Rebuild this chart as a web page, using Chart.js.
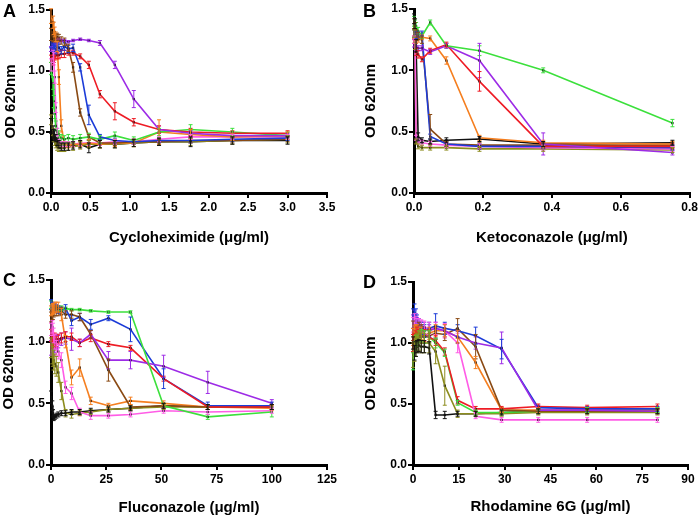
<!DOCTYPE html>
<html>
<head>
<meta charset="utf-8">
<script src="https://cdn.jsdelivr.net/npm/chart.js@4"></script>
<style>
  body { margin: 0; background: #fff; }
  #wrap { position: relative; width: 700px; height: 516px; overflow: hidden; }
  canvas { position: absolute; }
  .tag { position: absolute; font: bold 18px "Liberation Sans", Arial, sans-serif; color: #000; }
</style>
</head>
<body>
<div id="wrap">
  <canvas id="chartA" width="350" height="250" style="left:0;top:0"></canvas>
  <canvas id="chartB" width="350" height="250" style="left:350px;top:0"></canvas>
  <canvas id="chartC" width="350" height="270" style="left:0;top:250px"></canvas>
  <canvas id="chartD" width="350" height="270" style="left:350px;top:250px"></canvas>
  <div class="tag" style="left:3px;top:1px">A</div>
  <div class="tag" style="left:363px;top:1px">B</div>
  <div class="tag" style="left:3px;top:270px">C</div>
  <div class="tag" style="left:363px;top:272px">D</div>
</div>
<script>
// ---- A: cycloheximide ----
const aDose = [0, 0.027, 0.035, 0.046, 0.06, 0.078, 0.1, 0.13, 0.17, 0.22, 0.28, 0.37, 0.48, 0.62, 0.81, 1.05, 1.37, 1.77, 2.3, 3.0];
const aPurple = [1.18,1.2,1.22,1.23,1.24,1.24,1.25,1.25,1.25,1.24,1.25,1.26,1.25,1.23,1.05,0.77,0.52,0.49,0.47,0.47];
const aRed    = [1.1,1.08,1.1,1.12,1.13,1.13,1.13,1.14,1.14,1.15,1.15,1.12,1.05,0.81,0.67,0.58,0.52,0.5,0.49,0.49];
const aBlue   = [1.22,1.2,1.19,1.18,1.17,1.2,1.19,1.17,1.2,1.18,1.19,1.03,0.64,0.46,0.43,0.42,0.43,0.43,0.44,0.45];
const aBrown  = [1.3,1.28,1.27,1.28,1.27,1.28,1.27,1.25,1.24,1.19,1.03,0.66,0.46,0.41,0.41,0.42,0.42,0.43,0.43,0.44];
const aOrange = [1.45,1.4,1.35,1.32,1.28,1.2,0.95,0.55,0.4,0.39,0.4,0.4,0.41,0.4,0.41,0.41,0.5,0.48,0.46,0.47];
const aGreen  = [1.02,0.9,0.75,0.65,0.55,0.5,0.48,0.45,0.44,0.45,0.44,0.45,0.46,0.44,0.47,0.43,0.5,0.52,0.5,0.47];
const aPink   = [1.05,1.12,1.1,0.95,0.7,0.5,0.42,0.4,0.4,0.4,0.4,0.41,0.41,0.41,0.42,0.42,0.44,0.46,0.46,0.46];
const aBlack  = [0.55,0.5,0.48,0.47,0.45,0.42,0.4,0.38,0.38,0.38,0.39,0.4,0.37,0.4,0.4,0.41,0.42,0.42,0.43,0.43];
const aOlive  = [0.6,0.5,0.45,0.42,0.4,0.38,0.37,0.37,0.37,0.38,0.38,0.39,0.4,0.4,0.4,0.41,0.42,0.42,0.43,0.44];
const aPurpleErr = [0.02,0.02,0.02,0.02,0.02,0.02,0.02,0.01,0.01,0.01,0.01,0.01,0.01,0.02,0.03,0.07,0.03,0.02,0.02,0.02];
const aRedErr    = [0.03,0.03,0.03,0.03,0.03,0.03,0.03,0.03,0.03,0.02,0.02,0.02,0.03,0.03,0.07,0.03,0.03,0.03,0.02,0.02];
const aBlueErr   = [0.03,0.03,0.03,0.03,0.03,0.03,0.03,0.03,0.03,0.03,0.03,0.03,0.08,0.02,0.02,0.02,0.02,0.02,0.02,0.02];
const aBrownErr  = [0.05,0.04,0.03,0.03,0.03,0.03,0.03,0.03,0.03,0.03,0.04,0.03,0.02,0.02,0.02,0.02,0.02,0.02,0.02,0.02];
const aOrangeErr = [0.06,0.05,0.05,0.04,0.04,0.04,0.06,0.05,0.02,0.02,0.02,0.02,0.03,0.03,0.03,0.03,0.1,0.04,0.03,0.03];
const aGreenErr  = [0.05,0.05,0.05,0.04,0.04,0.03,0.03,0.03,0.03,0.03,0.03,0.03,0.03,0.03,0.03,0.03,0.03,0.04,0.03,0.03];
const aPinkErr   = [0.05,0.05,0.05,0.05,0.04,0.03,0.02,0.02,0.02,0.02,0.02,0.02,0.02,0.02,0.02,0.02,0.02,0.02,0.02,0.02];
const aBlackErr  = [0.06,0.05,0.04,0.04,0.03,0.03,0.03,0.03,0.03,0.03,0.03,0.03,0.04,0.03,0.03,0.03,0.03,0.04,0.03,0.03];
const aOliveErr  = [0.04,0.03,0.03,0.03,0.03,0.03,0.03,0.03,0.03,0.03,0.03,0.03,0.03,0.03,0.03,0.03,0.03,0.03,0.03,0.03];

// ---- B: ketoconazole ----
const bDose = [0, 0.003, 0.006, 0.012, 0.023, 0.047, 0.094, 0.19, 0.375, 0.75];
const bGreen  = [1.4,1.38,1.36,1.32,1.28,1.39,1.2,1.16,1.0,0.57];
const bRed    = [1.25,1.2,1.15,1.13,1.09,1.16,1.21,0.91,0.38,0.38];
const bPurple = [1.22,1.2,1.19,1.18,1.18,1.15,1.2,1.08,0.4,0.33];
const bOrange = [1.3,1.27,1.25,1.25,1.27,1.26,1.08,0.45,0.41,0.4];
const bBrown  = [1.38,1.36,1.3,1.28,1.25,0.52,0.4,0.39,0.39,0.39];
const bBlue   = [1.3,1.3,1.29,1.29,1.3,0.46,0.4,0.38,0.38,0.37];
const bBlack  = [1.42,1.38,1.2,0.46,0.43,0.42,0.43,0.44,0.4,0.41];
const bPink   = [1.25,1.2,0.45,0.42,0.41,0.4,0.39,0.38,0.37,0.36];
const bOlive  = [1.3,1.2,0.42,0.38,0.37,0.37,0.37,0.36,0.36,0.35];
const bGreenErr  = [0.04,0.03,0.03,0.03,0.02,0.02,0.02,0.04,0.02,0.03];
const bRedErr    = [0.03,0.03,0.03,0.03,0.02,0.02,0.02,0.08,0.02,0.02];
const bPurpleErr = [0.03,0.03,0.03,0.02,0.02,0.02,0.02,0.14,0.09,0.02];
const bOrangeErr = [0.04,0.03,0.03,0.02,0.02,0.02,0.03,0.02,0.02,0.02];
const bBrownErr  = [0.04,0.03,0.03,0.03,0.03,0.12,0.02,0.02,0.02,0.02];
const bBlueErr   = [0.03,0.03,0.03,0.02,0.02,0.02,0.02,0.02,0.02,0.02];
const bBlackErr  = [0.04,0.04,0.05,0.03,0.02,0.02,0.02,0.02,0.02,0.02];
const bPinkErr   = [0.03,0.03,0.02,0.02,0.02,0.02,0.02,0.02,0.02,0.02];
const bOliveErr  = [0.03,0.03,0.02,0.02,0.02,0.02,0.02,0.02,0.02,0.02];

// ---- C: fluconazole ----
const cDose = [0, 0.6, 0.85, 1.2, 1.7, 2.4, 3.3, 4.7, 6.6, 9.3, 13, 18, 26, 36, 51, 71, 100];
const cGreen  = [1.3,1.28,1.28,1.27,1.27,1.27,1.27,1.27,1.27,1.26,1.26,1.25,1.24,1.24,0.48,0.39,0.43];
const cBlue   = [1.3,1.29,1.28,1.27,1.28,1.27,1.26,1.25,1.27,1.17,1.2,1.14,1.19,1.1,0.7,0.48,0.48];
const cRed    = [1.05,1.02,1.0,1.0,1.02,1.0,1.02,1.03,1.04,1.04,0.99,1.03,0.98,0.95,0.7,0.47,0.47];
const cPurple = [0.95,0.96,0.98,0.95,0.97,1.0,1.0,1.02,1.03,1.02,0.99,1.06,0.85,0.85,0.8,0.67,0.5];
const cBrown  = [1.2,1.22,1.22,1.24,1.25,1.25,1.24,1.25,1.22,1.22,1.2,1.06,0.77,0.47,0.48,0.47,0.47];
const cOrange = [1.25,1.26,1.27,1.27,1.28,1.28,1.28,1.22,1.0,0.71,0.79,0.52,0.48,0.52,0.5,0.47,0.46];
const cPink   = [1.1,1.12,1.1,1.05,1.0,0.95,0.92,0.85,0.63,0.58,0.43,0.4,0.4,0.41,0.44,0.43,0.44];
const cBlack  = [0.55,0.48,0.42,0.38,0.39,0.4,0.41,0.42,0.42,0.43,0.43,0.44,0.45,0.46,0.48,0.47,0.47];
const cOlive  = [0.95,0.9,0.88,0.85,0.82,0.8,0.75,0.6,0.42,0.41,0.42,0.43,0.45,0.46,0.47,0.47,0.47];
const cGreenErr  = [0.03,0.02,0.02,0.02,0.02,0.02,0.02,0.02,0.01,0.01,0.01,0.01,0.01,0.01,0.02,0.02,0.04];
const cBlueErr   = [0.04,0.03,0.03,0.03,0.03,0.03,0.03,0.03,0.03,0.04,0.03,0.04,0.02,0.1,0.08,0.03,0.03];
const cRedErr    = [0.05,0.05,0.05,0.05,0.05,0.04,0.04,0.04,0.04,0.03,0.03,0.03,0.02,0.02,0.02,0.02,0.02];
const cPurpleErr = [0.06,0.06,0.06,0.06,0.06,0.06,0.05,0.05,0.05,0.09,0.03,0.03,0.07,0.07,0.09,0.09,0.03];
const cBrownErr  = [0.04,0.04,0.04,0.04,0.04,0.04,0.03,0.03,0.03,0.03,0.03,0.03,0.09,0.02,0.02,0.02,0.02];
const cOrangeErr = [0.04,0.04,0.04,0.04,0.04,0.04,0.04,0.05,0.05,0.06,0.07,0.03,0.02,0.03,0.02,0.02,0.02];
const cPinkErr   = [0.05,0.05,0.05,0.06,0.06,0.06,0.06,0.06,0.05,0.05,0.03,0.03,0.02,0.02,0.02,0.02,0.02];
const cBlackErr  = [0.05,0.04,0.03,0.02,0.02,0.02,0.02,0.02,0.02,0.02,0.02,0.02,0.02,0.02,0.02,0.02,0.02];
const cOliveErr  = [0.08,0.08,0.08,0.08,0.08,0.08,0.08,0.07,0.03,0.03,0.02,0.02,0.02,0.02,0.02,0.02,0.02];

// ---- D: rhodamine 6G ----
const dDose = [0, 0.5, 0.95, 1.3, 1.9, 2.7, 3.7, 5.3, 7.4, 10.4, 14.6, 20.5, 29, 41, 57, 80];
const dBlue   = [1.2,1.25,1.22,1.18,1.15,1.12,1.1,1.12,1.14,1.12,1.1,1.06,0.95,0.47,0.46,0.46];
const dPurple = [1.15,1.2,1.18,1.16,1.15,1.13,1.12,1.1,1.12,1.1,1.05,1.0,0.96,0.45,0.45,0.44];
const dPink   = [1.15,1.18,1.17,1.15,1.15,1.14,1.13,1.12,1.12,1.1,1.0,0.4,0.37,0.37,0.37,0.37];
const dBrown  = [1.1,1.05,1.08,1.1,1.12,1.1,1.05,1.06,1.08,1.07,1.12,0.97,0.45,0.44,0.44,0.44];
const dOrange = [1.05,1.08,1.1,1.1,1.08,1.08,1.06,1.08,1.1,1.1,1.05,0.84,0.45,0.45,0.45,0.45];
const dRed    = [1.0,1.02,1.05,1.08,1.06,1.05,1.06,1.05,1.02,0.93,0.53,0.46,0.46,0.48,0.47,0.48];
const dGreen  = [0.85,0.95,1.0,1.02,1.05,1.06,1.05,1.05,1.0,0.92,0.51,0.43,0.43,0.44,0.45,0.45];
const dOlive  = [0.9,0.95,0.98,1.0,1.02,1.0,1.0,1.0,0.93,0.65,0.42,0.42,0.42,0.43,0.43,0.43];
const dBlack  = [1.0,0.92,0.95,0.97,0.98,0.97,0.97,0.96,0.41,0.41,0.42,0.42,0.43,0.44,0.44,0.44];
const dBlueErr   = [0.08,0.07,0.06,0.05,0.05,0.05,0.05,0.05,0.1,0.05,0.05,0.07,0.08,0.02,0.02,0.02];
const dPurpleErr = [0.08,0.07,0.06,0.05,0.05,0.05,0.05,0.05,0.05,0.05,0.05,0.05,0.13,0.02,0.02,0.02];
const dPinkErr   = [0.06,0.06,0.05,0.05,0.05,0.05,0.05,0.05,0.05,0.06,0.08,0.02,0.02,0.02,0.02,0.02];
const dBrownErr  = [0.08,0.07,0.06,0.05,0.05,0.05,0.05,0.05,0.05,0.05,0.08,0.1,0.02,0.02,0.02,0.02];
const dOrangeErr = [0.07,0.06,0.05,0.05,0.05,0.05,0.05,0.05,0.05,0.05,0.05,0.05,0.02,0.02,0.02,0.02];
const dRedErr    = [0.07,0.06,0.05,0.05,0.05,0.05,0.05,0.05,0.04,0.03,0.03,0.02,0.02,0.02,0.02,0.02];
const dGreenErr  = [0.07,0.06,0.06,0.05,0.05,0.05,0.05,0.05,0.04,0.03,0.02,0.02,0.02,0.02,0.02,0.02];
const dOliveErr  = [0.1,0.1,0.09,0.08,0.08,0.08,0.08,0.08,0.1,0.16,0.03,0.02,0.02,0.02,0.02,0.02];
const dBlackErr  = [0.05,0.06,0.06,0.05,0.05,0.05,0.05,0.05,0.03,0.03,0.02,0.02,0.02,0.02,0.02,0.02];

const yTicks = [0, 0.5, 1.0, 1.5];

const COL = {
  red: '#ee1c25', purple: '#9d2be6', blue: '#1c3cd8', green: '#3ce03c',
  orange: '#f57f20', brown: '#8a4a14', black: '#111111', pink: '#ff5ce6', olive: '#8c8c1e'
};

const FONT = '"Liberation Sans", Arial, sans-serif';

// draws vertical error bars with caps for every dataset that has an err array
const errorBars = {
  id: 'errorBars',
  afterDatasetsDraw(chart) {
    const ctx = chart.ctx;
    const yScale = chart.scales.y;
    chart.data.datasets.forEach((ds, i) => {
      if (!ds.err) return;
      const meta = chart.getDatasetMeta(i);
      ctx.save();
      ctx.strokeStyle = ds.borderColor;
      ctx.lineWidth = 1;
      meta.data.forEach((pt, j) => {
        const v = ds.data[j].y, e = ds.err[j];
        const top = yScale.getPixelForValue(v + e);
        const bot = yScale.getPixelForValue(v - e);
        ctx.beginPath();
        ctx.moveTo(pt.x, top); ctx.lineTo(pt.x, bot);
        ctx.moveTo(pt.x - 2, top); ctx.lineTo(pt.x + 2, top);
        ctx.moveTo(pt.x - 2, bot); ctx.lineTo(pt.x + 2, bot);
        ctx.stroke();
      });
      ctx.restore();
    });
  }
};

function series(dose, vals, err, color) {
  return {
    data: dose.map((x, i) => ({ x: x, y: vals[i] })),
    err: err,
    borderColor: color,
    borderWidth: 1.6,
    pointStyle: 'rect',
    pointRadius: 1.6,
    pointBackgroundColor: '#111',
    pointBorderWidth: 0,
    tension: 0
  };
}

function makeChart(id, datasets, cfg) {
  const ctx = document.getElementById(id);
  if (!ctx) { console.error('no canvas ' + id); return; }
  new Chart(ctx, {
    type: 'line',
    data: { datasets: datasets },
    options: {
      responsive: false,
      animation: false,
      devicePixelRatio: 1,
      layout: { padding: cfg.pad },
      plugins: { legend: { display: false }, tooltip: { enabled: false } },
      scales: {
        x: {
          type: 'linear',
          min: 0, max: cfg.xMax,
          border: { display: true, color: '#000', width: 3 },
          grid: { display: true, drawOnChartArea: false, drawTicks: true, tickLength: 5, color: '#000', lineWidth: 2 },
          ticks: {
            stepSize: cfg.xStep,
            color: '#000', padding: 2,
            font: { family: FONT, size: 12, weight: 'bold' },
            callback: v => v.toFixed(cfg.xDec)
          },
          title: {
            display: true, text: cfg.xTitle, color: '#000',
            font: { family: FONT, size: 15, weight: 'bold' },
            padding: { top: 0, bottom: 0 }
          },
          afterFit: s => { s.height = cfg.xH; }
        },
        y: {
          min: 0, max: 1.5,
          border: { display: true, color: '#000', width: 3 },
          grid: { display: true, drawOnChartArea: false, drawTicks: true, tickLength: 5, color: '#000', lineWidth: 2 },
          afterBuildTicks: s => { s.ticks = yTicks.map(v => ({ value: v })); },
          ticks: {
            color: '#000', padding: 1,
            font: { family: FONT, size: 12, weight: 'bold' },
            callback: v => v.toFixed(1)
          },
          title: {
            display: true, text: 'OD 620nm', color: '#000',
            font: { family: FONT, size: 15, weight: 'bold' },
            padding: { top: cfg.yTitlePad, bottom: 0 }
          },
          afterFit: s => { s.width = cfg.yW; }
        }
      }
    },
    plugins: [errorBars]
  });
}

makeChart('chartA', [
  series(aDose, aPurple, aPurpleErr, COL.purple),
  series(aDose, aRed, aRedErr, COL.red),
  series(aDose, aBlue, aBlueErr, COL.blue),
  series(aDose, aGreen, aGreenErr, COL.green),
  series(aDose, aBrown, aBrownErr, COL.brown),
  series(aDose, aOrange, aOrangeErr, COL.orange),
  series(aDose, aPink, aPinkErr, COL.pink),
  series(aDose, aOlive, aOliveErr, COL.olive),
  series(aDose, aBlack, aBlackErr, COL.black)
], { xMax: 3.5, xStep: 0.5, xDec: 1, xTitle: 'Cycloheximide (\u03bcg/ml)',
     pad: { left: 0, top: 10, right: 23, bottom: 3 }, yW: 51, xH: 54, yTitlePad: 2 });

makeChart('chartB', [
  series(bDose, bGreen, bGreenErr, COL.green),
  series(bDose, bPurple, bPurpleErr, COL.purple),
  series(bDose, bRed, bRedErr, COL.red),
  series(bDose, bOrange, bOrangeErr, COL.orange),
  series(bDose, bBlue, bBlueErr, COL.blue),
  series(bDose, bBrown, bBrownErr, COL.brown),
  series(bDose, bPink, bPinkErr, COL.pink),
  series(bDose, bOlive, bOliveErr, COL.olive),
  series(bDose, bBlack, bBlackErr, COL.black)
], { xMax: 0.8, xStep: 0.2, xDec: 1, xTitle: 'Ketoconazole (\u03bcg/ml)',
     pad: { left: 9, top: 9, right: 8, bottom: 3 }, yW: 55, xH: 54, yTitlePad: 3 });

makeChart('chartC', [
  series(cDose, cGreen, cGreenErr, COL.green),
  series(cDose, cPurple, cPurpleErr, COL.purple),
  series(cDose, cRed, cRedErr, COL.red),
  series(cDose, cBlue, cBlueErr, COL.blue),
  series(cDose, cBrown, cBrownErr, COL.brown),
  series(cDose, cOrange, cOrangeErr, COL.orange),
  series(cDose, cPink, cPinkErr, COL.pink),
  series(cDose, cOlive, cOliveErr, COL.olive),
  series(cDose, cBlack, cBlackErr, COL.black)
], { xMax: 125, xStep: 25, xDec: 0, xTitle: 'Fluconazole (\u03bcg/ml)',
     pad: { left: 0, top: 30, right: 23, bottom: 3 }, yW: 51, xH: 52, yTitlePad: 0 });

makeChart('chartD', [
  series(dDose, dPurple, dPurpleErr, COL.purple),
  series(dDose, dBlue, dBlueErr, COL.blue),
  series(dDose, dPink, dPinkErr, COL.pink),
  series(dDose, dBrown, dBrownErr, COL.brown),
  series(dDose, dOrange, dOrangeErr, COL.orange),
  series(dDose, dRed, dRedErr, COL.red),
  series(dDose, dGreen, dGreenErr, COL.green),
  series(dDose, dOlive, dOliveErr, COL.olive),
  series(dDose, dBlack, dBlackErr, COL.black)
], { xMax: 90, xStep: 15, xDec: 0, xTitle: 'Rhodamine 6G (\u03bcg/ml)',
     pad: { left: 9, top: 32, right: 12, bottom: 4 }, yW: 54, xH: 51, yTitlePad: 3 });
</script>
</body>
</html>
